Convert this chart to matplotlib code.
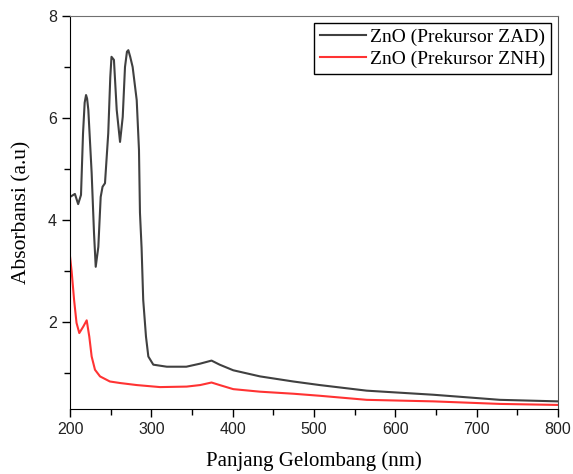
import numpy as np
import matplotlib.pyplot as plt

# ZnO (Prekursor ZAD)
zad_nm = [200, 206, 210, 213.5, 216, 218, 219.7, 221, 222.5, 226.6, 229.5, 231.6, 234.8, 237.7,
          240, 243, 247, 249.5, 251, 254, 257.4, 261.5, 264.8, 267.6, 270, 271.7, 274, 277, 282,
          284.8, 286, 288, 290, 293.4, 296.3, 302.4, 319, 343, 360, 374, 384,
          400.7, 433.6, 474.5, 507, 564.8, 646.7, 728.7, 800]
zad_abs = [4.45, 4.51, 4.31, 4.49, 5.7, 6.3, 6.45, 6.38, 6.16, 4.92, 3.74, 3.08, 3.47, 4.45,
           4.65, 4.72, 5.7, 6.8, 7.2, 7.14, 6.16, 5.53, 6.02, 7.0, 7.3, 7.33, 7.2, 7.0, 6.35,
           5.37, 4.14, 3.45, 2.43, 1.71, 1.32, 1.16, 1.12, 1.12, 1.18, 1.24, 1.16,
           1.05, 0.93, 0.83, 0.76, 0.65, 0.57, 0.47, 0.44]

# ZnO (Prekursor ZNH)
znh_nm = [200, 202, 205, 208, 211.4, 216.4, 220.5, 223.7, 226.6, 230.7, 236.9, 249,
          261.5, 282, 310.7, 343.5, 360, 374, 384, 400.7, 433.6, 474.5, 507,
          564.8, 646.7, 728.7, 800]
znh_abs = [3.28, 2.99, 2.43, 1.98, 1.78, 1.91, 2.03, 1.71, 1.32, 1.06, 0.93, 0.83,
           0.80, 0.76, 0.72, 0.73, 0.76, 0.81, 0.76, 0.68, 0.63, 0.59, 0.55,
           0.47, 0.44, 0.39, 0.37]

labels = ['ZnO (Prekursor ZAD)', 'ZnO (Prekursor ZNH)']

fig = plt.figure(figsize=(5.73, 4.74), dpi=100)
ax = fig.add_axes([0.1222, 0.1371, 0.8516, 0.8291])

ax.plot(zad_nm, zad_abs, color='#404040', lw=1.5, label=labels[0])
ax.plot(znh_nm, znh_abs, color='#ff3333', lw=1.5, label=labels[1])

ax.set_xlim(200, 800)
ax.set_ylim(0.29, 8)
ax.set_xticks([200, 300, 400, 500, 600, 700, 800])
ax.set_xticks(np.arange(250, 800, 100), minor=True)
ax.set_yticks([2, 4, 6, 8])
ax.set_yticks([1, 3, 5, 7], minor=True)
ax.tick_params(direction='out', length=6, width=1, labelsize=11.5,
               top=False, right=False, colors='black')
ax.tick_params(which='minor', direction='out', length=4, width=1,
               top=False, right=False)
for lab in ax.get_xticklabels() + ax.get_yticklabels():
    lab.set_family('Liberation Sans')
    lab.set_color('#222222')

ax.spines['top'].set_color('#707070')
ax.spines['right'].set_color('#505050')
for s in ['left', 'bottom']:
    ax.spines[s].set_color('black')

ax.set_xlabel('Panjang Gelombang (nm)', family='Liberation Serif', fontsize=15, labelpad=10)
ax.set_ylabel('Absorbansi (a.u)', family='Liberation Serif', fontsize=15.5, labelpad=12)

leg = ax.legend(loc='upper right', prop={'family': 'Liberation Serif', 'size': 14},
                fancybox=False, edgecolor='black', framealpha=1,
                handlelength=2.4, handletextpad=0.2, borderpad=0.3,
                labelspacing=0.2, borderaxespad=0.35)
leg.get_frame().set_linewidth(1)

fig.savefig('out.png', dpi=100)
